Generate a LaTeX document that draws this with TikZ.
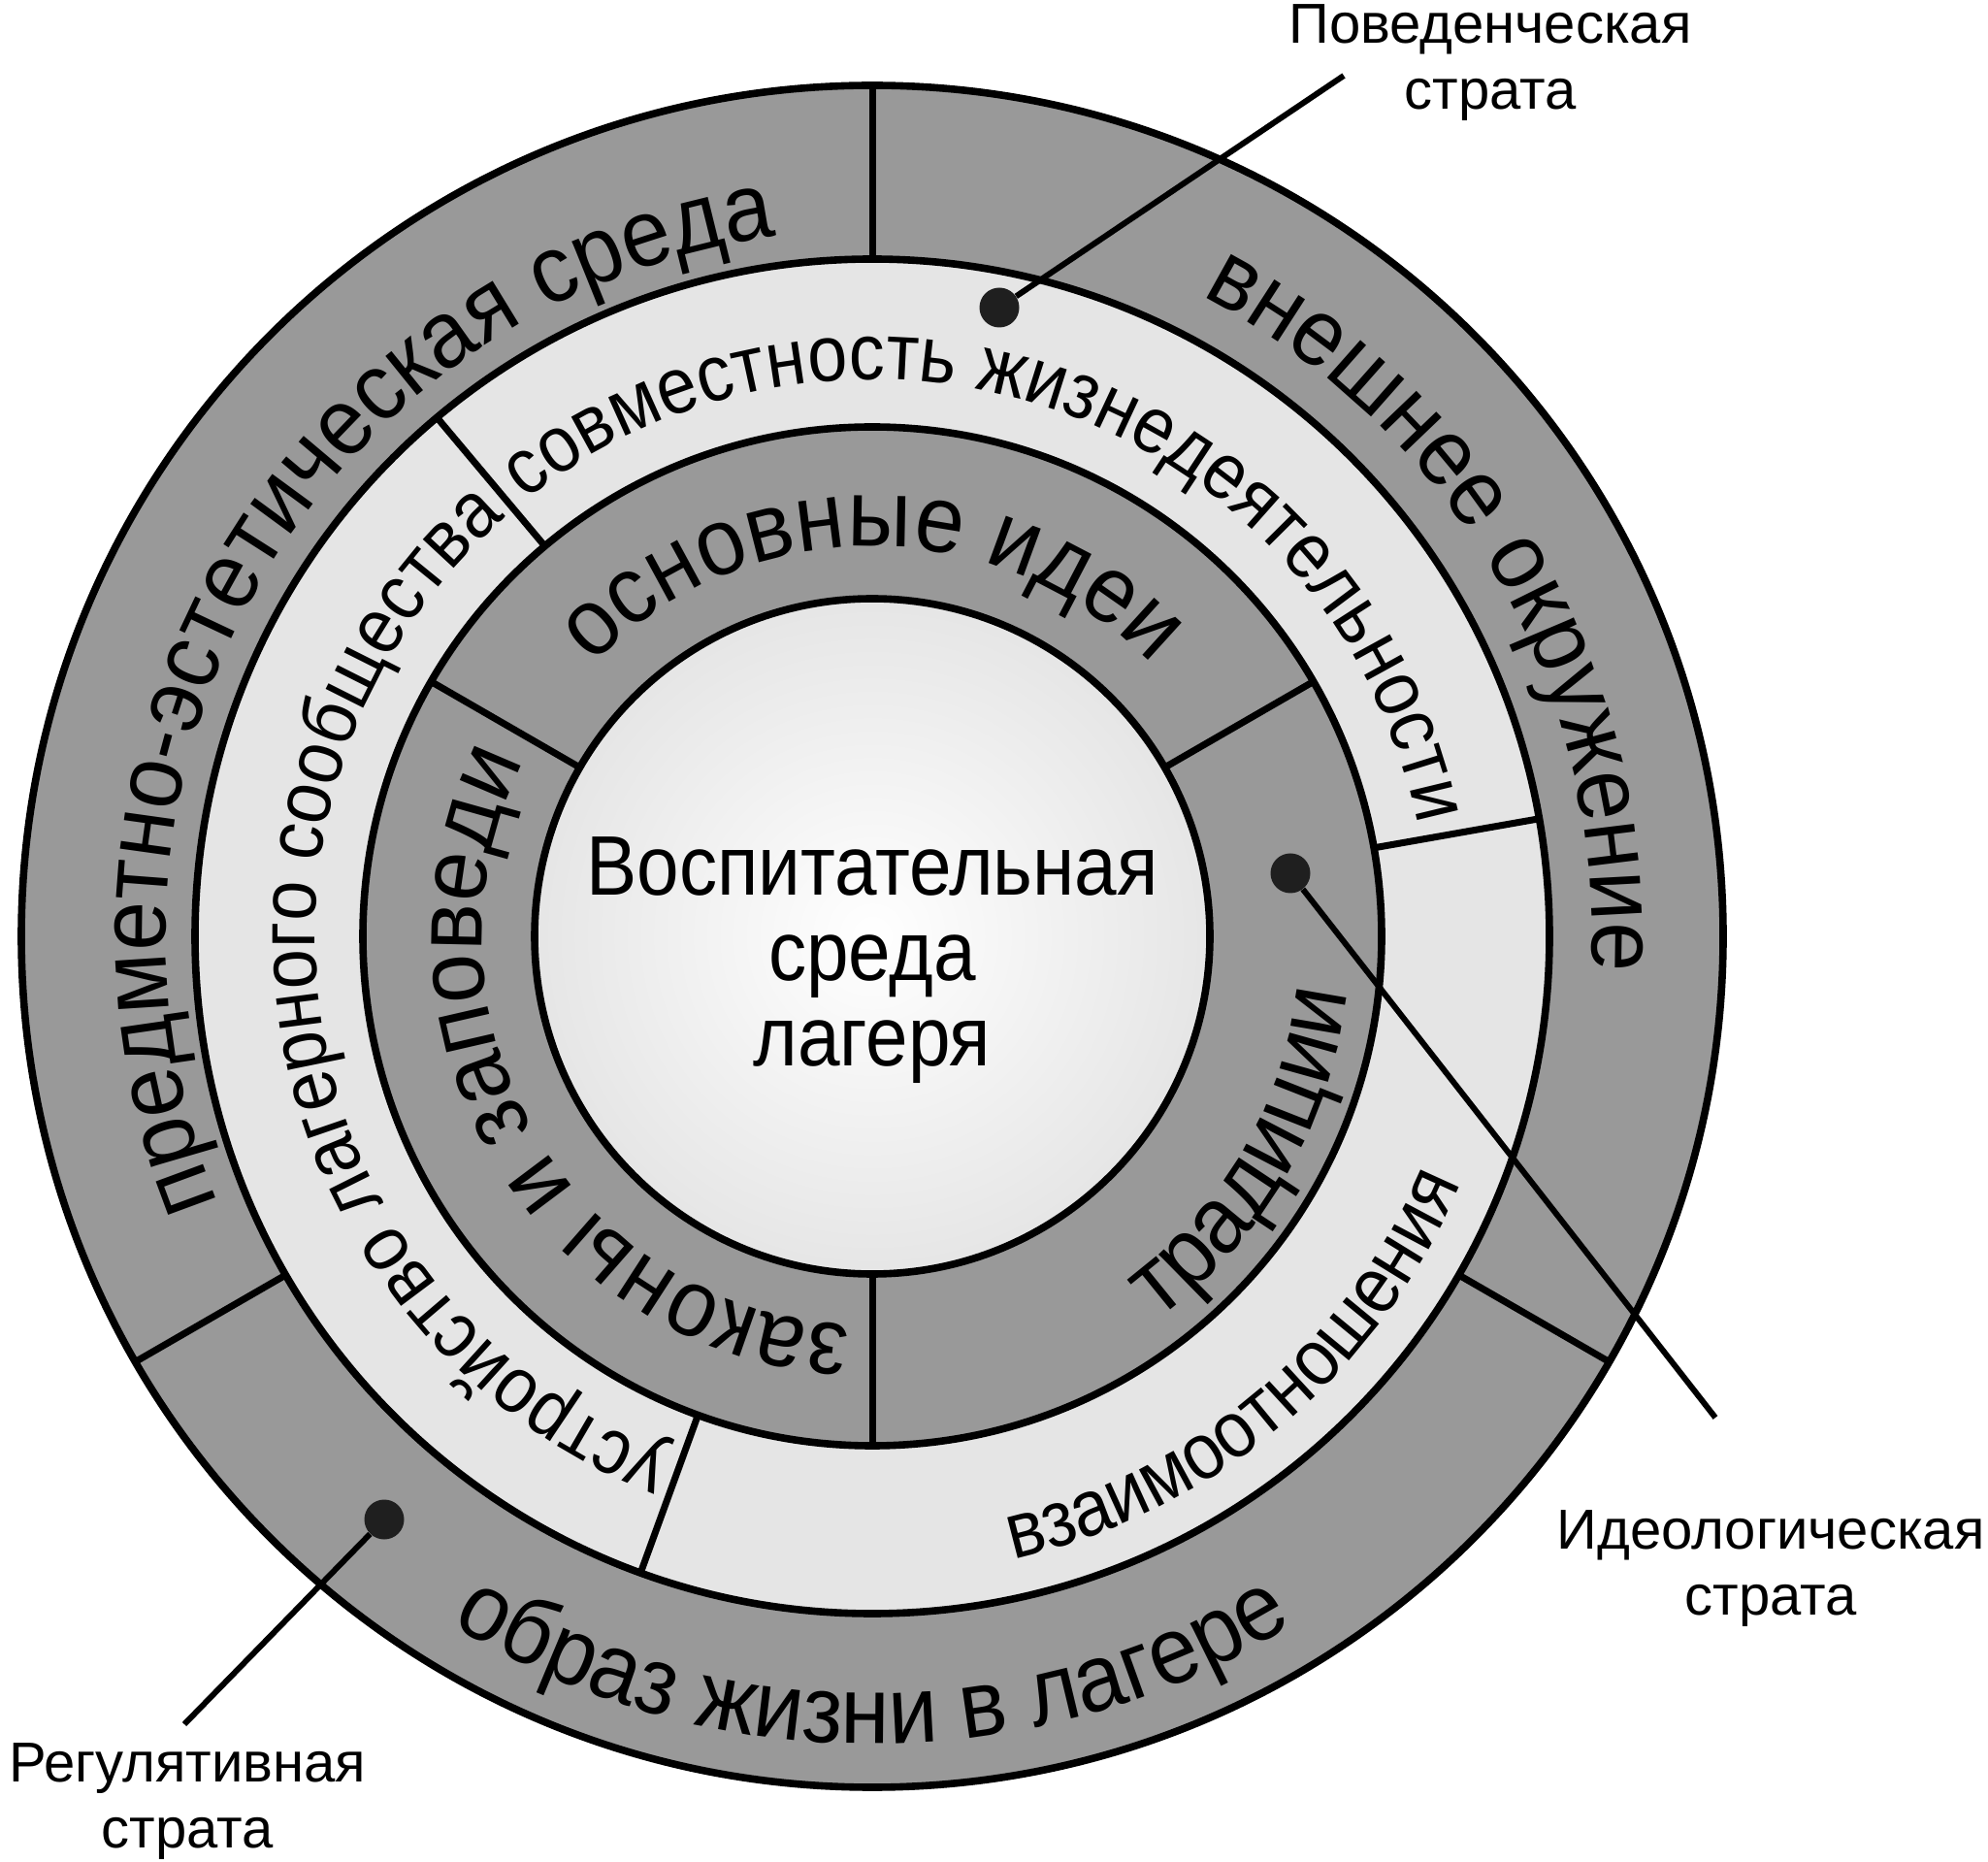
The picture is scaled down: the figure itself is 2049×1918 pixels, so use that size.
\documentclass[tikz,border=0pt]{standalone}
\usepackage{fontspec}
\setmainfont{Liberation Sans}
\newfontfamily\ringfont[FakeStretch=0.9]{Liberation Sans}
\newfontfamily\wideringfont[FakeStretch=0.93]{Liberation Sans}
\usetikzlibrary{decorations.text}
\newcommand\bigring{\wideringfont\fontsize{49}{58}\selectfont}
\newcommand\midring{\ringfont\fontsize{41}{48}\selectfont}
\definecolor{ringdark}{gray}{0.6}
\definecolor{ringlight}{gray}{0.9}
\tikzset{
  ringline/.style={line width=3.8pt, draw=black},
  divider/.style={line width=3.5pt, draw=black},
  leader/.style={line width=3pt, draw=black},
  dotmark/.style={circle, fill=black!88, minimum size=20.5pt, inner sep=0pt},
  stratalabel/.style={font=\fontsize{29}{34}\selectfont, align=center, inner sep=0pt},
  ringtext/.style={decorate, decoration={text along path, text align=center, text={#1}}},
}
\begin{document}
\begin{tikzpicture}[x=0.5pt, y=0.5pt]
\useasboundingbox (0,0) rectangle (2049,1918);
\fill[white] (0,0) rectangle (2049,1918);
\coordinate (C) at (899,953);
% rings
\fill[ringdark] (C) circle[radius=877];
\fill[ringlight] (C) circle[radius=698];
\fill[ringdark] (C) circle[radius=525];
\shade[inner color=white, outer color=black!10] (C) circle[radius=348];
\foreach \r in {877,698,525,348} \draw[ringline] (C) circle[radius=\r];
% dividers
\foreach \a in {90,210,330} \draw[divider] ([shift={(\a:698)}]C) -- ([shift={(\a:877)}]C);
\foreach \a in {130,10,250} \draw[divider] ([shift={(\a:525)}]C) -- ([shift={(\a:698)}]C);
\foreach \a in {30,150,270} \draw[divider] ([shift={(\a:348)}]C) -- ([shift={(\a:525)}]C);
% outer ring texts
\path[ringtext={|\bigring|предметно-эстетическая среда}] ([shift={(225:728)}]C) arc[start angle=225, end angle=75, radius=728];
\path[ringtext={|\bigring|внешнее окружение}] ([shift={(105:742)}]C) arc[start angle=105, end angle=-45, radius=742];
\path[ringtext={|\bigring|образ жизни в лагере}] ([shift={(195:832)}]C) arc[start angle=195, end angle=345, radius=832];
% light ring texts
\path[ringtext={|\midring|совместность жизнедеятельности}] ([shift={(145:574)}]C) arc[start angle=145, end angle=-5, radius=574];
\path[ringtext={|\midring|устройство лагерного сообщества}] ([shift={(265:574)}]C) arc[start angle=265, end angle=115, radius=574];
\path[ringtext={|\midring|взаимоотношения}] ([shift={(235:658)}]C) arc[start angle=235, end angle=385, radius=658];
% dark ring texts
\path[ringtext={|\bigring|основные идеи}] ([shift={(165:402)}]C) arc[start angle=165, end angle=15, radius=402];
\path[ringtext={|\bigring|законы и заповеди}] ([shift={(285:402)}]C) arc[start angle=285, end angle=135, radius=402];
\path[ringtext={|\bigring|традиции}] ([shift={(255:493)}]C) arc[start angle=255, end angle=405, radius=493];
% centre
\node[font=\ringfont\fontsize{43.5}{44}\selectfont, align=center, inner sep=0pt] (centre) at (899,928) {Воспитательная\\среда\\лагеря};
% strata labels
\node[stratalabel] (beh) at (1536,1853) {Поведенческая\\страта};
\node[stratalabel] (ideo) at (1825,301) {Идеологическая\\страта};
\node[stratalabel] (reg) at (193,61) {Регулятивная\\страта};
\coordinate (ebeh) at (1385,1840);
\coordinate (eideo) at (1768,457);
\coordinate (ereg) at (190,141);
\node[dotmark] (dbeh) at (1030,1601) {};
\node[dotmark] (dideo) at (1330,1018) {};
\node[dotmark] (dreg) at (396,352) {};
\draw[leader] (dbeh) -- (ebeh);
\draw[leader] (dideo) -- (eideo);
\draw[leader] (dreg) -- (ereg);
\end{tikzpicture}
\end{document}
